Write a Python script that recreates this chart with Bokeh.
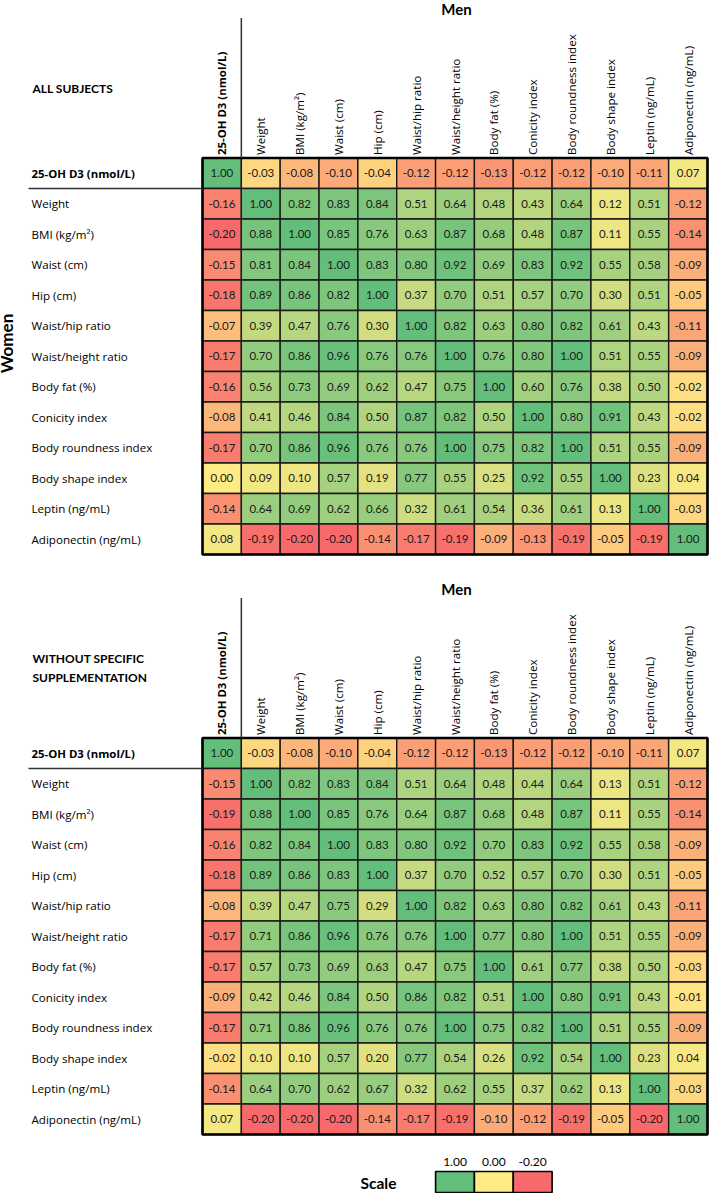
import numpy as np
from bokeh.plotting import figure
from bokeh.models import ColumnDataSource, Range1d
from bokeh.core.properties import value
from bokeh.embed import file_html
from bokeh.resources import INLINE

# ---------------- data ----------------
variables = ["25-OH D3 (nmol/L)", "Weight", "BMI (kg/m²)", "Waist (cm)", "Hip (cm)",
             "Waist/hip ratio", "Waist/height ratio", "Body fat (%)", "Conicity index",
             "Body roundness index", "Body shape index", "Leptin (ng/mL)", "Adiponectin (ng/mL)"]

panel_titles = [["ALL SUBJECTS"], ["WITHOUT SPECIFIC", "SUPPLEMENTATION"]]
col_group = "Men"
row_group = "Women"

all_subjects = [
    [1.00, -0.03, -0.08, -0.10, -0.04, -0.12, -0.12, -0.13, -0.12, -0.12, -0.10, -0.11, 0.07],
    [-0.16, 1.00, 0.82, 0.83, 0.84, 0.51, 0.64, 0.48, 0.43, 0.64, 0.12, 0.51, -0.12],
    [-0.20, 0.88, 1.00, 0.85, 0.76, 0.63, 0.87, 0.68, 0.48, 0.87, 0.11, 0.55, -0.14],
    [-0.15, 0.81, 0.84, 1.00, 0.83, 0.80, 0.92, 0.69, 0.83, 0.92, 0.55, 0.58, -0.09],
    [-0.18, 0.89, 0.86, 0.82, 1.00, 0.37, 0.70, 0.51, 0.57, 0.70, 0.30, 0.51, -0.05],
    [-0.07, 0.39, 0.47, 0.76, 0.30, 1.00, 0.82, 0.63, 0.80, 0.82, 0.61, 0.43, -0.11],
    [-0.17, 0.70, 0.86, 0.96, 0.76, 0.76, 1.00, 0.76, 0.80, 1.00, 0.51, 0.55, -0.09],
    [-0.16, 0.56, 0.73, 0.69, 0.62, 0.47, 0.75, 1.00, 0.60, 0.76, 0.38, 0.50, -0.02],
    [-0.08, 0.41, 0.46, 0.84, 0.50, 0.87, 0.82, 0.50, 1.00, 0.80, 0.91, 0.43, -0.02],
    [-0.17, 0.70, 0.86, 0.96, 0.76, 0.76, 1.00, 0.75, 0.82, 1.00, 0.51, 0.55, -0.09],
    [0.00, 0.09, 0.10, 0.57, 0.19, 0.77, 0.55, 0.25, 0.92, 0.55, 1.00, 0.23, 0.04],
    [-0.14, 0.64, 0.69, 0.62, 0.66, 0.32, 0.61, 0.54, 0.36, 0.61, 0.13, 1.00, -0.03],
    [0.08, -0.19, -0.20, -0.20, -0.14, -0.17, -0.19, -0.09, -0.13, -0.19, -0.05, -0.19, 1.00],
]

without_supplementation = [
    [1.00, -0.03, -0.08, -0.10, -0.04, -0.12, -0.12, -0.13, -0.12, -0.12, -0.10, -0.11, 0.07],
    [-0.15, 1.00, 0.82, 0.83, 0.84, 0.51, 0.64, 0.48, 0.44, 0.64, 0.13, 0.51, -0.12],
    [-0.19, 0.88, 1.00, 0.85, 0.76, 0.64, 0.87, 0.68, 0.48, 0.87, 0.11, 0.55, -0.14],
    [-0.16, 0.82, 0.84, 1.00, 0.83, 0.80, 0.92, 0.70, 0.83, 0.92, 0.55, 0.58, -0.09],
    [-0.18, 0.89, 0.86, 0.83, 1.00, 0.37, 0.70, 0.52, 0.57, 0.70, 0.30, 0.51, -0.05],
    [-0.08, 0.39, 0.47, 0.75, 0.29, 1.00, 0.82, 0.63, 0.80, 0.82, 0.61, 0.43, -0.11],
    [-0.17, 0.71, 0.86, 0.96, 0.76, 0.76, 1.00, 0.77, 0.80, 1.00, 0.51, 0.55, -0.09],
    [-0.17, 0.57, 0.73, 0.69, 0.63, 0.47, 0.75, 1.00, 0.61, 0.77, 0.38, 0.50, -0.03],
    [-0.09, 0.42, 0.46, 0.84, 0.50, 0.86, 0.82, 0.51, 1.00, 0.80, 0.91, 0.43, -0.01],
    [-0.17, 0.71, 0.86, 0.96, 0.76, 0.76, 1.00, 0.75, 0.82, 1.00, 0.51, 0.55, -0.09],
    [-0.02, 0.10, 0.10, 0.57, 0.20, 0.77, 0.54, 0.26, 0.92, 0.54, 1.00, 0.23, 0.04],
    [-0.14, 0.64, 0.70, 0.62, 0.67, 0.32, 0.62, 0.55, 0.37, 0.62, 0.13, 1.00, -0.03],
    [0.07, -0.20, -0.20, -0.20, -0.14, -0.17, -0.19, -0.10, -0.12, -0.19, -0.05, -0.20, 1.00],
]

scale_values = [1.00, 0.00, -0.20]
scale_labels = ["1.00", "0.00", "-0.20"]

# ---------------- styling / layout ----------------
GREEN = (99, 190, 123)
YELLOW = (255, 235, 132)
RED = (248, 105, 107)
VMIN, VMID, VMAX = -0.20, 0.0, 1.0


def colour(v):
    if v >= VMID:
        t = (v - VMID) / (VMAX - VMID)
        a, b = YELLOW, GREEN
    else:
        t = (v - VMID) / (VMIN - VMID)
        a, b = YELLOW, RED
    t = max(0.0, min(1.0, t))
    r, g, bl = (round(a[k] + t * (b[k] - a[k])) for k in range(3))
    return "#%02x%02x%02x" % (r, g, bl)


LAB = value("Open Sans")
NUM = value("Lato")
X0, X1 = 202.0, 707.0
N = len(variables)
CW = (X1 - X0) / N
RH = 30.5
PANEL_TOP = [157.5, 737.5]
LABEL_X = 31
LAB_SIZE = "11.6px"
LAB_BOLD_SIZE = "11.4px"

p = figure(width=709, height=1193, x_range=Range1d(0, 709), y_range=Range1d(1193, 0),
           output_backend="svg", toolbar_location=None, min_border=0,
           x_axis_location=None, y_axis_location=None)
p.grid.visible = False
p.outline_line_color = None
p.background_fill_color = "white"
p.border_fill_color = "white"

for pi_, (mat, titles) in enumerate(zip([all_subjects, without_supplementation], panel_titles)):
    y0 = PANEL_TOP[pi_]
    left, right, top, bottom, cols, labs, cx, cy = [], [], [], [], [], [], [], []
    for i in range(N):
        for j in range(N):
            v = mat[i][j]
            l = X0 + j * CW
            t = y0 + i * RH
            left.append(l); right.append(l + CW); top.append(t); bottom.append(t + RH)
            cols.append(colour(v)); labs.append("%.2f" % v)
            cx.append(l + CW / 2); cy.append(t + RH / 2)
    src = ColumnDataSource(dict(left=left, right=right, top=top, bottom=bottom,
                                color=cols, lab=labs, cx=cx, cy=cy))
    p.quad(left="left", right="right", top="top", bottom="bottom", source=src,
           fill_color="color", line_color="#1a1a1a", line_width=1.4)
    p.text(x="cx", y="cy", text="lab", source=src, text_font=NUM, text_font_size="11.5px",
           text_align="center", text_baseline="middle", text_color="#1a1a1a")
    # outer border
    p.quad(left=[X0], right=[X0 + N * CW], top=[y0], bottom=[y0 + N * RH],
           fill_color=None, line_color="black", line_width=2.6)

    # row labels
    ry = [y0 + (i + 0.5) * RH for i in range(N)]
    p.text(x=[LABEL_X], y=[ry[0]], text=[variables[0]], text_font=LAB,
           text_font_size=LAB_BOLD_SIZE, text_font_style="bold", text_align="left",
           text_baseline="middle", text_color="black")
    p.text(x=[LABEL_X] * (N - 1), y=ry[1:], text=variables[1:], text_font=LAB,
           text_font_size=LAB_SIZE, text_align="left", text_baseline="middle",
           text_color="black")
    p.segment(x0=[28], y0=[y0 + RH], x1=[X0], y1=[y0 + RH], line_color="#333333", line_width=1.3)

    # column labels (rotated)
    hx = [X0 + (j + 0.5) * CW for j in range(N)]
    p.text(x=[hx[0]], y=[y0 - 3], text=[variables[0]], angle=np.pi / 2, text_font=LAB,
           text_font_size=LAB_BOLD_SIZE, text_font_style="bold", text_align="left",
           text_baseline="middle", text_color="black")
    p.text(x=hx[1:], y=[y0 - 3] * (N - 1), text=variables[1:], angle=np.pi / 2, text_font=LAB,
           text_font_size=LAB_SIZE, text_align="left", text_baseline="middle",
           text_color="black")
    p.segment(x0=[X0 + CW], y0=[y0 - 140], x1=[X0 + CW], y1=[y0], line_color="#333333",
              line_width=1.5)

    # group title (Men)
    p.text(x=[456], y=[y0 - 149], text=[col_group], text_font=NUM, text_font_size="15px",
           text_font_style="bold", text_align="center", text_baseline="middle",
           text_color="black")

    # panel title
    if len(titles) == 1:
        ty = [y0 - 70]
    else:
        ty = [y0 - 80, y0 - 61]
    p.text(x=[32] * len(titles), y=ty, text=titles, text_font=NUM, text_font_size="12px",
           text_font_style="bold", text_align="left", text_baseline="middle",
           text_color="black")

# Women label (top panel only)
p.text(x=[6], y=[343], text=[row_group], angle=np.pi / 2, text_font=NUM,
       text_font_size="17px", text_font_style="bold", text_align="center",
       text_baseline="middle", text_color="black")

# ---------------- scale legend ----------------
sl = [X0 + (6 + k) * CW for k in range(len(scale_values))]
ssrc = ColumnDataSource(dict(left=sl, right=[v + CW for v in sl],
                             color=[colour(v) for v in scale_values],
                             lab=scale_labels, cx=[v + CW / 2 for v in sl]))
p.quad(left="left", right="right", top=1171, bottom=1192, source=ssrc,
       fill_color="color", line_color="black", line_width=1.6)
p.text(x="cx", y=1161, text="lab", source=ssrc, text_font=NUM, text_font_size="12px",
       text_align="center", text_baseline="middle", text_color="black")
p.text(x=[378], y=[1182], text=["Scale"], text_font=NUM, text_font_size="15.5px",
       text_font_style="bold", text_align="center", text_baseline="middle",
       text_color="black")

open("out.html", "w").write(file_html(p, INLINE))
